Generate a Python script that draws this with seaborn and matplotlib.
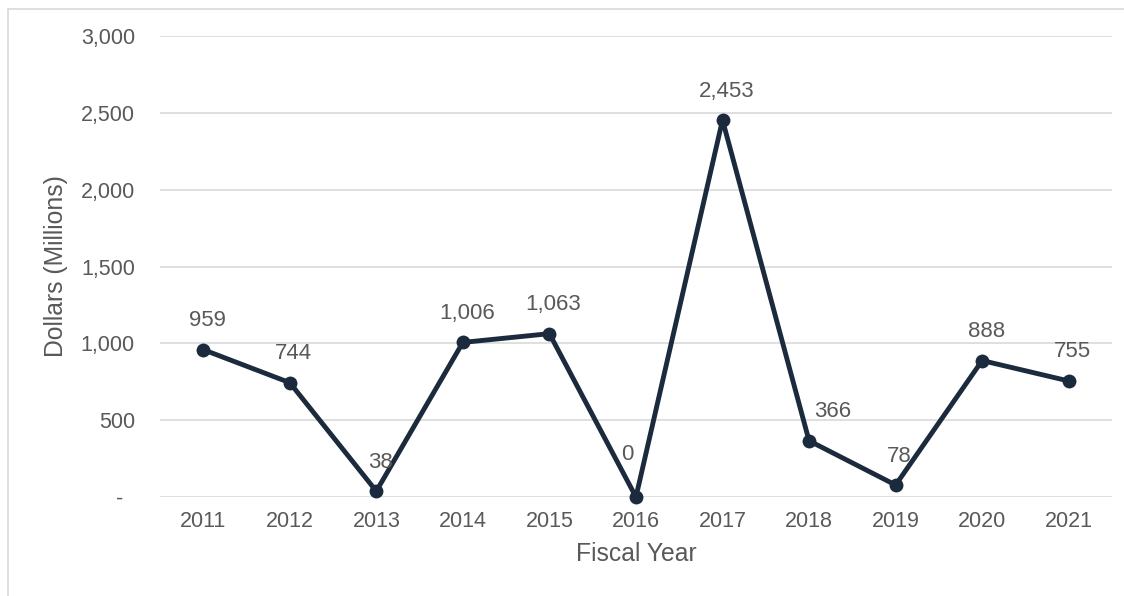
import pandas as pd
import matplotlib.pyplot as plt
import matplotlib.ticker as mticker
from matplotlib.lines import Line2D
import seaborn as sns

fiscal_years = [2011, 2012, 2013, 2014, 2015, 2016, 2017, 2018, 2019, 2020, 2021]
dollars_millions = [959, 744, 38, 1006, 1063, 0, 2453, 366, 78, 888, 755]

LINE = "#1B2A3C"
TEXT = "#595959"
GRID = "#D9D9D9"

sns.set_theme(style="white")
plt.rcParams["font.family"] = ["Liberation Sans", "DejaVu Sans"]

df = pd.DataFrame({"Fiscal Year": fiscal_years, "Dollars": dollars_millions})

fig = plt.figure(figsize=(11.24, 5.96), dpi=100)
ax = fig.add_axes([0.1423, 0.1661, 0.847, 0.7735])

sns.lineplot(data=df, x="Fiscal Year", y="Dollars", ax=ax, color=LINE,
             linewidth=3.5, marker="o", markersize=10, markeredgewidth=0,
             clip_on=False, zorder=3)

# data labels (a couple are nudged like the original to dodge the line)
nudge = {2018: (24, 29), 2016: (-9, 43)}
for yr, val in zip(fiscal_years, dollars_millions):
    dx, dy = nudge.get(yr, (4, 29))
    ax.annotate(f"{val:,}", (yr, val), xytext=(dx, dy), textcoords="offset pixels",
                ha="center", va="center", fontsize=16, color=TEXT)

ax.set_xlim(fiscal_years[0] - 0.5, fiscal_years[-1] + 0.5)
ax.set_ylim(0, 3000)
ax.set_xticks(fiscal_years)
ax.set_xticklabels([str(y) for y in fiscal_years])
ax.set_yticks(range(0, 3001, 500))
ax.yaxis.set_major_formatter(mticker.FuncFormatter(
    lambda v, p: "-  " if v == 0 else f"{v:,.0f}"))

ax.grid(axis="y", color=GRID, linewidth=1.2)
ax.grid(axis="x", visible=False)
ax.set_axisbelow(True)
for s in ax.spines.values():
    s.set_visible(False)

ax.tick_params(axis="y", length=0, pad=18, labelsize=15.5, labelcolor=TEXT)
ax.tick_params(axis="x", length=0, pad=10, labelsize=15.5, labelcolor=TEXT)
ax.set_xlabel("Fiscal Year", fontsize=17.8, color=TEXT, labelpad=7)
ax.set_ylabel("Dollars (Millions)", fontsize=17.8, color=TEXT, labelpad=9)

# chart frame (left and top edges visible)
fig.add_artist(Line2D([8 / 1124, 8 / 1124], [0, 1 - 9 / 596], color=GRID, linewidth=1.2))
fig.add_artist(Line2D([8 / 1124, 1], [1 - 9 / 596, 1 - 9 / 596], color=GRID, linewidth=1.2))

fig.savefig("out.png", dpi=100)
